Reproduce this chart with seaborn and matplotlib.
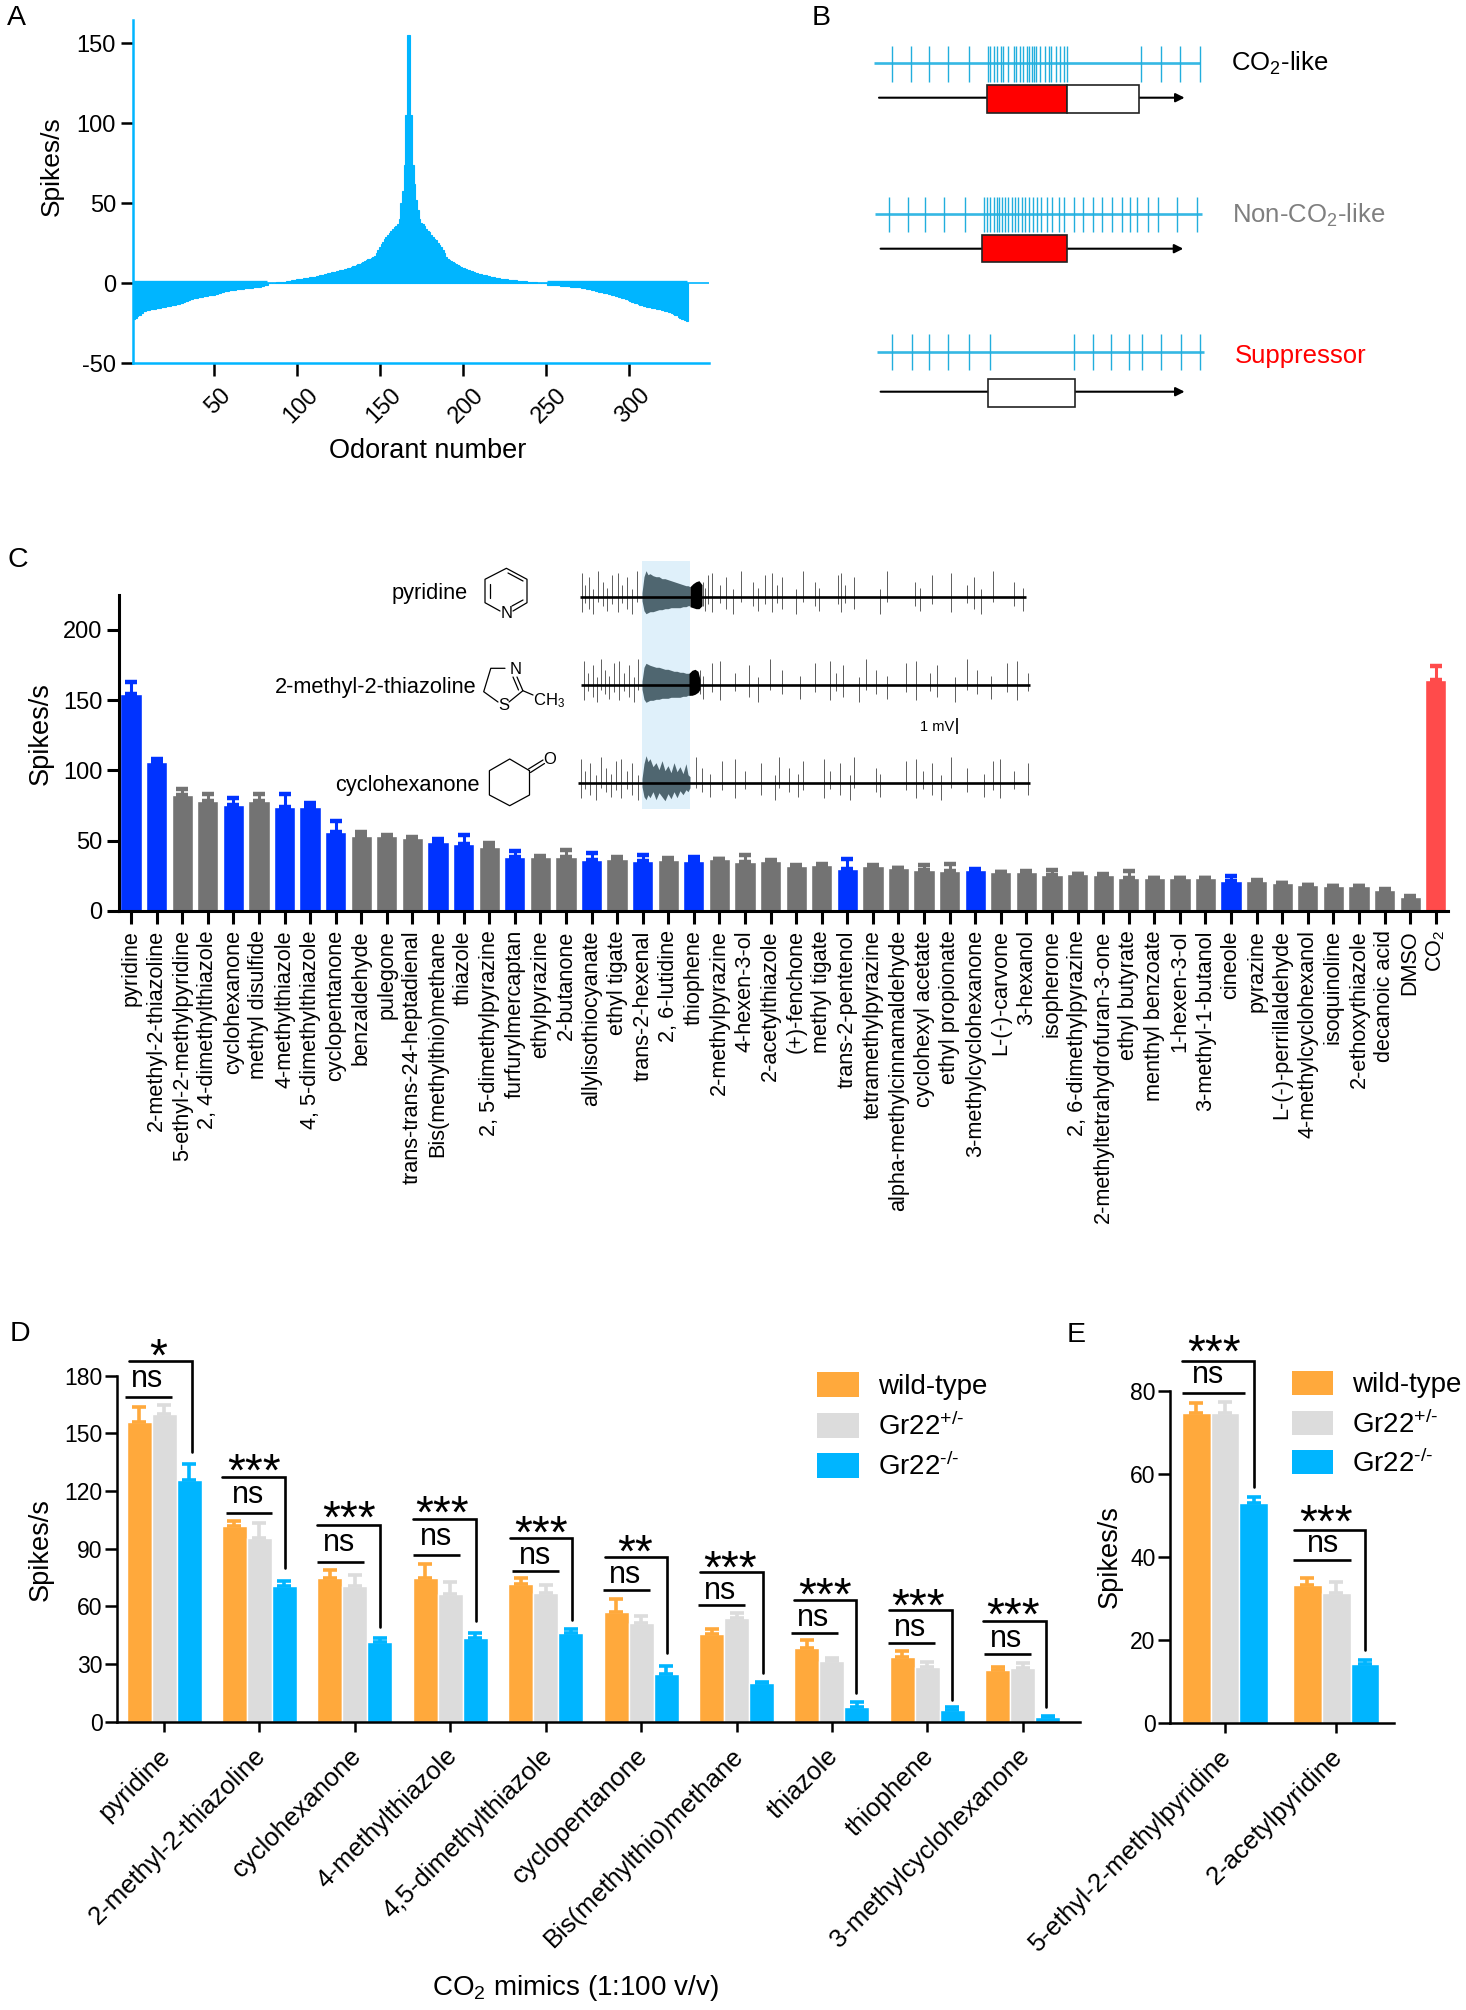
import numpy as np
import pandas as pd
import matplotlib
matplotlib.use('Agg')
import matplotlib.pyplot as plt
from matplotlib.patches import Rectangle
from matplotlib.transforms import ScaledTranslation
import seaborn as sns

W, H = 1466, 2010
BLUE_LIGHT = '#00B5FF'
ORANGE = '#FFA93C'
GREY_LIGHT = '#DCDCDC'
FONT = 'Liberation Sans'

# --- Panel A: odorant tuning curve ---
tuning = [
    -23, -22, -21.5, -20.5, -20, -19.5, -18.5, -17.5, -17, -16.6,
    -16.4, -16.2, -16.1, -16, -15.8, -15.6, -15.4, -15.2, -15, -14.8,
    -14.6, -14.4, -14.2, -14, -13.8, -13.6, -13.3, -13, -12.7, -12.4,
    -12, -11.6, -11.2, -10.8, -10.4, -10, -9.7, -9.4, -9.2, -9,
    -8.8, -8.6, -8.4, -8.2, -8, -7.8, -7.6, -7.4, -7.2, -7,
    -6.7, -6.4, -6.1, -5.8, -5.5, -5.2, -4.9, -4.7, -4.5, -4.3,
    -4.2, -4.1, -4, -3.8, -3.7, -3.5, -3.4, -3.3, -3.1, -3,
    -2.9, -2.8, -2.7, -2.6, -2.5, -2.3, -2.2, -2, -1.8, -1.5,
    -1.2, -0.8, 0.1, 0.2, 0.3, 0.4, 0.5, 0.6, 0.7, 0.8,
    0.9, 1, 1.1, 1.3, 1.5, 1.6, 1.8, 2, 2.2, 2.5,
    2.7, 2.8, 3, 3.1, 3.3, 3.4, 3.6, 3.7, 3.9, 4,
    4.2, 4.4, 4.7, 5, 5.3, 5.5, 5.8, 6, 6.2, 6.5,
    6.8, 7, 7.3, 7.6, 7.9, 8.1, 8.4, 8.6, 8.8, 9,
    9.4, 9.8, 10.3, 10.7, 11.1, 11.5, 11.9, 12.3, 12.9, 13.5,
    14, 14.5, 15, 15.5, 16, 16.5, 17, 19, 21, 23,
    24.5, 26, 27.5, 29, 30, 31.5, 33, 34, 35, 36,
    37, 40, 50, 58, 74, 105, 155, 155, 105, 74,
    62, 52, 46, 40, 38, 37, 36, 34, 33, 32,
    30, 29, 28, 27, 25.5, 24, 22.5, 21, 19, 16.5,
    15.5, 14.8, 14, 13.4, 12.8, 12.2, 11.6, 11, 10.4, 9.8,
    9.4, 9, 8.6, 8.2, 7.8, 7.4, 7, 6.6, 6.3, 6,
    5.8, 5.5, 5.2, 5, 4.7, 4.5, 4.2, 4, 3.7, 3.5,
    3.3, 3.2, 3, 2.9, 2.7, 2.6, 2.4, 2.3, 2.1, 2,
    1.9, 1.8, 1.7, 1.6, 1.5, 1.4, 1.3, 1.2, 1.1, 1,
    0.9, 0.8, 0.7, 0.6, 0.5, 0.4, 0.3, 0.2, 0.1, 0.1,
    -0.8, -0.9, -1, -1, -1.1, -1.2, -1.3, -1.3, -1.4, -1.5,
    -1.6, -1.7, -1.8, -1.9, -2, -2.1, -2.2, -2.3, -2.4, -2.5,
    -2.6, -2.8, -3, -3.1, -3.3, -3.5, -3.7, -4, -4.3, -4.6,
    -4.9, -5.2, -5.5, -5.7, -5.9, -6.1, -6.3, -6.5, -6.8, -7.1,
    -7.4, -7.7, -8, -8.3, -8.6, -8.9, -9.2, -9.5, -10, -10.5,
    -11, -11.4, -11.8, -12.2, -12.6, -13, -13.3, -13.6, -13.9, -14.2,
    -14.5, -14.8, -15, -15.3, -15.5, -15.7, -15.9, -16.1, -16.3, -16.5,
    -16.7, -17, -17.3, -17.7, -18, -18.5, -19, -19.5, -20, -20.8,
    -21.5, -22, -22.5, -23, -23.3,
]

# --- Panel B: schematic spike trains (pixel positions) ---
train_co2 = [891.5, 911, 929, 948, 968.5, 988, 990, 994, 996.5, 1001, 1003, 1007.5, 1014, 1016, 1020,
             1023, 1027, 1029, 1031.5, 1034, 1036, 1040, 1045, 1049, 1051, 1055.5, 1060, 1064, 1066.5,
             1141, 1161, 1180, 1200]
train_non = [888.5, 907.7, 925, 944, 964.6, 984.3, 986.5, 990, 993.5, 996.5, 998.7, 1001.8, 1005.3,
             1008.4, 1011.8, 1015, 1018.4, 1021.5, 1025, 1028.5, 1032.8, 1037.2, 1041, 1046.8, 1052,
             1058.7, 1064.3, 1074, 1082.7, 1092.8, 1102, 1112, 1122, 1130, 1137.4, 1147.5, 1157.5,
             1176.8, 1196.5]
train_sup = [892.4, 911.7, 929, 948.4, 969, 990.4, 1073.5, 1092.8, 1110.7, 1128.6, 1141.8, 1161, 1181, 1200.4]

# --- Panel C: odorant screen ---
odor_names = ['pyridine', '2-methyl-2-thiazoline', '5-ethyl-2-methylpyridine', '2, 4-dimethylthiazole',
              'cyclohexanone', 'methyl disulfide', '4-methylthiazole', '4, 5-dimethylthiazole',
              'cyclopentanone', 'benzaldehyde', 'pulegone', 'trans-trans-24-heptadienal',
              'Bis(methylthio)methane', 'thiazole', '2, 5-dimethylpyrazine', 'furfurylmercaptan',
              'ethylpyrazine', '2-butanone', 'allylisothiocyanate', 'ethyl tigate', 'trans-2-hexenal',
              '2, 6-lutidine', 'thiophene', '2-methylpyrazine', '4-hexen-3-ol', '2-acetylthiazole',
              '(+)-fenchone', 'methyl tigate', 'trans-2-pentenol', 'tetramethylpyrazine',
              'alpha-methylcinnamaldehyde', 'cyclohexyl acetate', 'ethyl propionate',
              '3-methylcyclohexanone', 'L-(-)-carvone', '3-hexanol', 'isopherone',
              '2, 6-dimethylpyrazine', '2-methyltetrahydrofuran-3-one', 'ethyl butyrate',
              'menthyl benzoate', '1-hexen-3-ol', '3-methyl-1-butanol', 'cineole', 'pyrazine',
              'L-(-)-perrillaldehyde', '4-methylcyclohexanol', 'isoquinoline', '2-ethoxythiazole',
              'decanoic acid', 'DMSO', 'CO$_2$']
odor_mean = [154.5, 106, 82.5, 78.5, 75, 78.5, 74, 74, 56, 53.5, 53.5, 51.5, 49, 47.5, 45.5, 38, 38.5, 38,
             36, 37, 35.5, 36, 35.5, 36.5, 35, 35.5, 32, 32.7, 30, 32, 30.3, 29, 28, 29, 27.3, 27.5, 25.5,
             26, 25.3, 23.5, 23.3, 23, 23.3, 21, 21.5, 19.5, 18.3, 17.5, 17.5, 15, 10, 164]
odor_top = [163, 108, 87, 83, 80, 83, 83, 77, 64, 56, 54, 52.5, 51, 54, 48, 42.5, 39, 43,
            41, 38, 40, 37.5, 38.5, 37, 40, 35.8, 32.5, 33, 36.5, 32.3, 30.6, 32.5, 33, 29.5, 27.6, 28,
            29, 26.3, 26.5, 28, 23.6, 23.3, 23.6, 24.5, 22, 19.8, 18.6, 17.8, 17.8, 15.3, 10.3, 174]
blue_odors = [0, 1, 4, 6, 7, 8, 12, 13, 15, 18, 20, 22, 28, 33, 43]

# electrode traces in panel C (pixel positions)
trace_spikes = [
    [582, 585, 589, 593, 598, 603, 607, 612, 618, 622, 627, 632, 637, 703, 705, 708, 712,
     720, 726, 733, 741, 753, 758, 765, 772, 777, 782, 796, 803, 815, 819, 838, 841, 845, 854, 880, 887, 915,
     920, 932, 951, 967, 974, 981, 993, 1014, 1023],
    [584, 588, 593, 597, 601, 605, 609, 614, 619, 624, 629, 634, 638, 700, 703, 712,
     720, 735, 749, 758, 770, 782, 800, 814.5, 829.5, 835.6, 842.7, 859, 866, 875.5, 887, 906, 915.5, 929.5,
     936.6, 955, 967, 976.5, 990.6, 1007, 1017, 1028],
    [581, 585, 590, 596, 601, 606, 611, 616, 621, 627, 632, 638, 696, 702, 710, 722, 735, 745, 760.5, 774.6, 779,
     788.7, 798, 802.8, 824, 829.5, 840.3, 849.7, 854.4, 875.5, 880, 906, 915.5, 922.5, 932, 941, 950.7, 967,
     983.5, 993, 1000, 1014, 1028],
]
trace_y = [596.7, 685.3, 782.7]
trace_x0 = [579.5, 581, 578]
trace_x1 = [1025.8, 1029.5, 1029.5]
burst_x = [642, 644, 646, 648, 650, 653, 656, 659, 662, 665, 668, 671, 674, 677, 680, 683, 686, 688, 690]
burst_up = [[4, 20, 26, 22, 23, 21, 20, 20, 18, 18, 17, 16, 15, 14, 13, 12, 11, 11, 10],
            [4, 18, 22, 21, 20, 19, 18, 18, 17, 16, 16, 15, 14, 14, 13, 13, 12, 12, 12],
            [4, 19, 27, 21, 24, 16, 20, 13, 22, 12, 17, 10, 20, 11, 16, 9, 19, 8, 6]]
burst_down = [[4, 14, 17, 16, 15, 15, 14, 13, 13, 12, 12, 11, 11, 11, 11, 10, 10, 9, 9],
              [4, 14, 17, 16, 15, 15, 14, 14, 13, 13, 13, 12, 12, 12, 12, 11, 11, 10, 10],
              [4, 14, 17, 12, 15, 9, 17, 10, 14, 18, 11, 16, 9, 15, 8, 12, 7, 9, 5]]
# black after-burst right behind the shaded stimulus
after_x = [[690, 693, 696, 699, 702], [689, 692, 695, 698, 700]]
after_up = [[10, 13, 15, 16, 12], [12, 15, 16, 14, 6]]
after_down = [[10, 11, 12, 12, 9], [10, 10, 9, 7, 4]]
spike_up = [24, 12, 20, 8, 26, 15, 9, 22]
spike_down = [15, 6, 12, 17, 5, 9, 14, 7]

# --- Panel D / E: Gr22 mutants ---
genotypes = ['wild-type', 'Gr22$^{\\text{+/-}}$', 'Gr22$^{\\text{-/-}}$']
geno_colors = [ORANGE, GREY_LIGHT, BLUE_LIGHT]
mimic_names = ['pyridine', '2-methyl-2-thiazoline', 'cyclohexanone', '4-methylthiazole', '4,5-dimethylthiazole',
               'cyclopentanone', 'Bis(methylthio)methane', 'thiazole', 'thiophene', '3-methylcyclohexanone']
wt_mean = [156, 102, 75, 74.5, 71.6, 57, 45.4, 38.5, 33.8, 27]
wt_top = [163.5, 104.5, 79, 82.3, 74.5, 64, 48, 42.5, 36.7, 28.6]
het_mean = [160, 95.7, 70.7, 66.4, 67.2, 51.6, 54, 31.5, 28.6, 27.7]
het_top = [165, 103.5, 76.3, 72.8, 71, 55, 56.8, 33, 31, 30.7]
ko_mean = [125.6, 70.7, 41.6, 43.3, 46.4, 25, 20, 7.8, 6, 2.2]
ko_top = [134, 73.3, 43.3, 46.4, 48, 29, 20.8, 10.4, 7.5, 3]
stars_d = ['*', '***', '***', '***', '***', '**', '***', '***', '***', '***']

pyr_names = ['5-ethyl-2-methylpyridine', '2-acetylpyridine']
wt_mean_e = [74.8, 33.2]
wt_top_e = [77, 35]
het_mean_e = [74.8, 31.2]
het_top_e = [77.3, 34]
ko_mean_e = [52.9, 14.1]
ko_top_e = [54.5, 15.1]
stars_e = ['***', '***']

# significance brackets in pixels: x0, x1, y, y_end, star_x, star_y, ns_x0, ns_x1, ns_y, ns_x, ns_text_y
brackets_d = [
    (129, 192, 1360.7, 1451.7, 158.4, 1349.3, 125, 172, 1397.3, 147.4, 1379.3),
    (222, 285, 1476.7, 1568.3, 253.8, 1465, 225.5, 272, 1513.3, 248, 1495),
    (317, 379.5, 1525, 1626.7, 349, 1511.7, 317, 363.5, 1561.7, 339, 1543.3),
    (412.5, 476, 1519.3, 1620.7, 442.5, 1506.7, 413, 460, 1555, 435.6, 1537.3),
    (509.6, 572.3, 1537.7, 1620, 541.3, 1526.7, 512, 558.6, 1570.7, 535.5, 1556),
    (604.7, 667.4, 1557, 1653.3, 635.4, 1546, 603.3, 649.8, 1590, 625, 1575),
    (700, 762.8, 1572.3, 1673.3, 730, 1561.7, 698.4, 744.9, 1605.3, 719.7, 1590.7),
    (794.4, 856.4, 1600, 1692.7, 824.8, 1588.3, 791, 837.5, 1633.3, 813, 1618.3),
    (889, 951.8, 1610, 1700, 918.4, 1599.3, 887.8, 934.6, 1643.3, 910, 1628.3),
    (983, 1045.5, 1620.7, 1706.7, 1013, 1609, 984, 1031.4, 1654, 1006, 1639.3),
]
brackets_e = [
    (1182.3, 1254, 1361, 1486.7, 1214, 1346, 1182, 1245, 1392.7, 1208, 1375),
    (1294, 1365, 1530, 1650, 1325.7, 1516, 1292.7, 1351, 1560, 1322.7, 1544),
]

sns.set_theme(style='ticks')
plt.rcParams['font.family'] = [FONT, 'DejaVu Sans']
plt.rcParams['mathtext.fontset'] = 'custom'
plt.rcParams['mathtext.rm'] = FONT
plt.rcParams['mathtext.default'] = 'regular'
plt.rcParams['axes.unicode_minus'] = False
plt.rcParams['text.color'] = 'black'
plt.rcParams['xtick.color'] = 'black'
plt.rcParams['ytick.color'] = 'black'
plt.rcParams['axes.edgecolor'] = 'black'

fig = plt.figure(figsize=(W / 100, H / 100), dpi=100)


def px_axes(left, top, right, bottom):
    return fig.add_axes([left / W, 1 - bottom / H, (right - left) / W, (bottom - top) / H])


def style_ticks(ax, lw=1.8, xlen=9, ylen=9, ysize=17, pad=3):
    sns.despine(ax=ax)
    for side in ('left', 'bottom'):
        ax.spines[side].set_linewidth(lw)
    ax.tick_params(axis='y', width=lw, length=ylen, labelsize=ysize, pad=pad, color='black')
    ax.tick_params(axis='x', width=lw, length=xlen, color='black')
    ax.set_xlabel('')
    ax.set_ylabel('')


def nudge_labels(ax, dx):
    # shift x tick labels sideways by dx pixels
    for t in ax.get_xticklabels():
        t.set_transform(t.get_transform() + ScaledTranslation(dx / 100, 0, fig.dpi_scale_trans))


# overlay in pixel coordinates for annotations
ov = fig.add_axes([0, 0, 1, 1], zorder=5)
ov.set_xlim(0, W)
ov.set_ylim(H, 0)
ov.axis('off')
ov.patch.set_alpha(0)

for letter, lx, ly in [('A', 16, 18), ('B', 821.6, 18), ('C', 17.5, 560), ('D', 19.6, 1334), ('E', 1076, 1335)]:
    ov.text(lx, ly, letter, fontsize=20.5, ha='center', va='center')

# A
ax_a = px_axes(132.7, 20, 709, 363.3)
numbers = np.arange(1, len(tuning) + 1)
sns.barplot(x=numbers, y=tuning, native_scale=True, color=BLUE_LIGHT, saturation=1, width=1,
            errorbar=None, linewidth=0.8, edgecolor=BLUE_LIGHT, ax=ax_a)
ax_a.hlines(0.7, 1, 82, color=BLUE_LIGHT, lw=2.4)
ax_a.hlines(0.7, 251, 335, color=BLUE_LIGHT, lw=2.4)
ax_a.axhline(0, color=BLUE_LIGHT, lw=1.2)
ax_a.set_xlim(1.2, 348.4)
ax_a.set_ylim(-50, 164.6)
style_ticks(ax_a, lw=1.8)
for side in ('left', 'bottom'):
    ax_a.spines[side].set_color(BLUE_LIGHT)
ax_a.set_yticks([-50, 0, 50, 100, 150])
ax_a.set_xticks([50, 100, 150, 200, 250, 300])
ax_a.tick_params(axis='x', labelsize=17, pad=6)
for t in ax_a.get_xticklabels():
    t.set_rotation(45)
    t.set_ha('center')
nudge_labels(ax_a, 4)
ov.text(51.5, 166, 'Spikes/s', fontsize=19, rotation=90, ha='center', va='center')
ov.text(428, 451, 'Odorant number', fontsize=19.5, ha='center', va='center')

# B
trains = [(train_co2, 63.3, 46, 81.7, 874, 1200), (train_non, 214, 196.7, 231.7, 875.4, 1202),
          (train_sup, 351.7, 334, 370, 877, 1203.5)]
for spikes, y, y0, y1, x0, x1 in trains:
    ov.hlines(y, x0, x1, color='#35B8E4', lw=1.9)
    ov.vlines(spikes, y0, y1, color='#22AEDD', lw=1.0)
for x0, x1, y in [(879, 1184.6, 97.7), (880.6, 1183.3, 248.7), (880.6, 1184.6, 391.7)]:
    ov.annotate('', xy=(x1, y), xytext=(x0, y), zorder=2,
                arrowprops=dict(arrowstyle='-|>', color='black', lw=1.5, mutation_scale=13, shrinkA=0, shrinkB=0))
boxes = [(987, 1066.5, 85, 112.7, 'red'), (1066.5, 1138.7, 85, 112.7, 'white'),
         (981.7, 1067, 235, 261.7, 'red'), (988, 1075.3, 379, 406.7, 'white')]
for x0, x1, y0, y1, c in boxes:
    ov.add_patch(Rectangle((x0, y0), x1 - x0, y1 - y0, facecolor=c, edgecolor='#222222', lw=1.2, zorder=4))
ov.text(1230.6, 63, 'CO$_2$-like', fontsize=18.5, va='center')
ov.text(1232, 215, 'Non-CO$_2$-like', fontsize=18.5, va='center', color='#7F7F7F')
ov.text(1235, 356, 'Suppressor', fontsize=18.5, va='center', color='#FF0000')

# C
ax_c = px_axes(119, 595, 1448, 910.7)
odor_palette = ['#737373'] * len(odor_names)
for i in blue_odors:
    odor_palette[i] = '#0033FF'
odor_palette[-1] = '#FF4B4B'
sns.barplot(x=odor_names, y=odor_mean, hue=odor_names, palette=odor_palette, saturation=1, width=0.83,
            errorbar=None, legend=False, ax=ax_c)
for i in range(len(odor_names)):
    ax_c.errorbar(i, odor_mean[i], yerr=[[0], [odor_top[i] - odor_mean[i]]], fmt='none',
                  ecolor=odor_palette[i], elinewidth=2.2, capsize=4.5, capthick=3.2)
ax_c.set_xlim(-0.47, 51.48)
ax_c.set_ylim(0, 224.9)
style_ticks(ax_c, lw=2.2)
ax_c.set_yticks([0, 50, 100, 150, 200])
ax_c.tick_params(axis='x', labelsize=15.6, pad=5)
for t in ax_c.get_xticklabels():
    t.set_rotation(90)
    t.set_va('top')
ov.text(40.5, 733.8, 'Spikes/s', fontsize=19.5, rotation=90, ha='center', va='center')

ov.add_patch(Rectangle((641.8, 561), 48.6, 248.3, facecolor='#DFF0FA', edgecolor='none', zorder=0))
for k in range(3):
    y = trace_y[k]
    sx = np.array(trace_spikes[k])
    ups = np.resize(spike_up, len(sx))
    downs = np.resize(spike_down, len(sx))
    ov.vlines(sx, y - ups, y + downs, color='#444444', lw=0.6, zorder=1)
    ov.fill_between(burst_x, y - np.array(burst_up[k]), y + np.array(burst_down[k]), color='#4F6670', lw=0, zorder=1)
    if k < 2:
        ov.fill_between(after_x[k], y - np.array(after_up[k]), y + np.array(after_down[k]), color='black', lw=0, zorder=1)
    ov.hlines(y, trace_x0[k], trace_x1[k], color='black', lw=1.9, zorder=2)
ov.text(468, 593.7, 'pyridine', fontsize=15.7, ha='right', va='center')
ov.text(476.6, 687.3, '2-methyl-2-thiazoline', fontsize=15.7, ha='right', va='center')
ov.text(480, 785.3, 'cyclohexanone', fontsize=15.7, ha='right', va='center')
ov.text(920, 727, '1 mV', fontsize=10.5, va='center')
ov.vlines(957, 717.7, 734.3, color='black', lw=1.2)

# chemical structures
bonds = [
    [(500, 611), (485, 602.7), (485, 579.3), (506.4, 568.3), (527, 579.3), (527, 602.7), (513, 611)],
    [(489.5, 584), (489.5, 598)], [(508, 573), (523, 581)], [(512, 606), (523, 600)],
    [(505, 668.3), (490.8, 668.3), (483.7, 691.7), (498, 702)],
    [(509, 702), (522.9, 690.7), (517, 677)], [(518.5, 690), (513, 677)], [(522.9, 690.7), (533, 695)],
    [(529.5, 770.7), (509.7, 759), (489.4, 770.7), (489.4, 795), (509.7, 805.7), (529.5, 795), (529.5, 770.7)],
    [(528.5, 769), (543, 760)], [(530.5, 772.5), (544.5, 763.5)],
]
for b in bonds:
    bx, by = zip(*b)
    ov.plot(bx, by, color='black', lw=0.9)
for tx, ty, s, fs in [(506.4, 613, 'N', 12), (515.8, 669, 'N', 12), (503.5, 705, 'S', 12),
                      (549.8, 759, 'O', 12)]:
    ov.text(tx, ty, s, fontsize=fs, ha='center', va='center')
ov.text(533, 701, 'CH$_3$', fontsize=12, va='center')


def group_bars(ax, names, means, tops, width):
    rows = []
    for g, m in zip(genotypes, means):
        rows.append(pd.DataFrame({'odor': names, 'genotype': g, 'rate': m}))
    df = pd.concat(rows)
    sns.barplot(data=df, x='odor', y='rate', hue='genotype', palette=geno_colors, saturation=1, width=width,
                gap=0, errorbar=None, legend=False, ax=ax)
    for cont, m, t, c in zip(ax.containers, means, tops, geno_colors):
        xs = [p.get_x() + p.get_width() / 2 for p in cont]
        err = np.array(t) - np.array(m)
        ax.errorbar(xs, m, yerr=[np.zeros(len(err)), err], fmt='none', ecolor=c,
                    elinewidth=2.6, capsize=5, capthick=2.6)
    style_ticks(ax, lw=1.8, xlen=7, ylen=8.5, ysize=16.5, pad=2)
    ax.tick_params(axis='x', labelsize=18.5, pad=15)
    for t in ax.get_xticklabels():
        t.set_rotation(45)
        t.set_ha('right')
        t.set_va('center')
        t.set_rotation_mode('anchor')
    nudge_labels(ax, 3)


def draw_brackets(brackets, stars):
    for b, s in zip(brackets, stars):
        x0, x1, y, y_end, sx, sy, nx0, nx1, ny, nx, nty = b
        ov.plot([x0, x1, x1], [y, y, y_end], color='black', lw=1.9, solid_joinstyle='miter')
        ov.hlines(ny, nx0, nx1, color='black', lw=1.9)
        ov.text(sx, sy + 21, s, fontsize=33, ha='center', va='baseline')
        ov.text(nx, nty + 8, 'ns', fontsize=22, ha='center', va='baseline')


def draw_legend(sw_x0, sw_x1, sw_y, sw_h, text_x, text_y):
    for c, g, y, ty in zip(geno_colors, genotypes, sw_y, text_y):
        ov.add_patch(Rectangle((sw_x0, y), sw_x1 - sw_x0, sw_h, facecolor=c, edgecolor='none'))
        ov.text(text_x, ty, g, fontsize=20, va='center')


# D
ax_d = px_axes(117, 1375.7, 1080, 1721.7)
group_bars(ax_d, mimic_names, [wt_mean, het_mean, ko_mean], [wt_top, het_top, ko_top], 0.786)
ax_d.set_xlim(-0.493, 9.6)
ax_d.set_ylim(0, 180)
ax_d.set_yticks([0, 30, 60, 90, 120, 150, 180])
draw_brackets(brackets_d, stars_d)
draw_legend(817, 859, [1372, 1413, 1453], 24.5, 878, [1387, 1427, 1467])
ov.text(41, 1550, 'Spikes/s', fontsize=19.5, rotation=90, ha='center', va='center')
ov.text(575, 1988, 'CO$_2$ mimics (1:100 v/v)', fontsize=20, ha='center', va='center')

# E
ax_e = px_axes(1170, 1391, 1394, 1722.7)
group_bars(ax_e, pyr_names, [wt_mean_e, het_mean_e, ko_mean_e], [wt_top_e, het_top_e, ko_top_e], 0.775)
ax_e.set_xlim(-0.495, 1.52)
ax_e.set_ylim(0, 80)
ax_e.set_yticks([0, 20, 40, 60, 80])
draw_brackets(brackets_e, stars_e)
draw_legend(1291.7, 1333, [1370.7, 1410.7, 1450], 24, 1351.7, [1384.7, 1425, 1464])
ov.text(1110, 1556.7, 'Spikes/s', fontsize=19.5, rotation=90, ha='center', va='center')

fig.savefig('out.png', dpi=100)
